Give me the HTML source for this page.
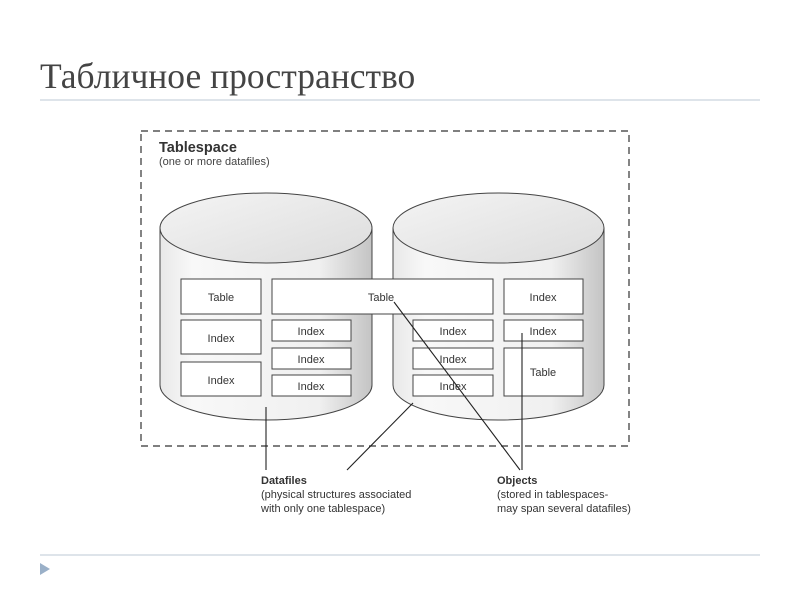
<!DOCTYPE html>
<html><head><meta charset="utf-8"><style>
body{margin:0;background:#fff;}
</style></head><body>
<svg width="800" height="600" xmlns="http://www.w3.org/2000/svg" style="display:block">
<defs>
<linearGradient id="g" x1="0" x2="1" y1="0" y2="0">
<stop offset="0" stop-color="#e8e8e8"/><stop offset="0.15" stop-color="#f8f8f8"/><stop offset="0.75" stop-color="#f0f0f0"/><stop offset="1" stop-color="#c4c4c4"/>
</linearGradient>
<linearGradient id="t" x1="0" x2="1" y1="0" y2="1">
<stop offset="0" stop-color="#f4f4f4"/><stop offset="1" stop-color="#dcdcdc"/>
</linearGradient>
</defs>
<text x="40" y="88" font-family="Liberation Serif, serif" font-size="35.5" fill="#444">Табличное пространство</text>
<line x1="40" y1="100" x2="760" y2="100" stroke="#d3dbe3" stroke-width="1.5"/>
<line x1="40" y1="555" x2="760" y2="555" stroke="#d3dbe3" stroke-width="1.5"/>
<polygon points="40,563 50,569 40,575" fill="#9ab0c8"/>

<rect x="141" y="131" width="488" height="315" fill="none" stroke="#333" stroke-width="1.2" stroke-dasharray="7,5"/>
<text x="159" y="152" font-family="Liberation Sans, sans-serif" font-size="14.5" font-weight="bold" fill="#333">Tablespace</text>
<text x="159" y="165" font-family="Liberation Sans, sans-serif" font-size="11" fill="#444">(one or more datafiles)</text>

<g stroke="#444" stroke-width="1">
<path d="M160,228 L160,385 A106,35 0 0 0 372,385 L372,228" fill="url(#g)"/>
<ellipse cx="266" cy="228" rx="106" ry="35" fill="url(#t)"/>
<path d="M393,228 L393,385 A105.5,35 0 0 0 604,385 L604,228" fill="url(#g)"/>
<ellipse cx="498.5" cy="228" rx="105.5" ry="35" fill="url(#t)"/>
</g>
<g fill="#fff" stroke="#444" stroke-width="1">
<rect x="181" y="279" width="80" height="35"/>
<rect x="272" y="279" width="221" height="35"/>
<rect x="504" y="279" width="79" height="35"/>
<rect x="181" y="320" width="80" height="34"/>
<rect x="272" y="320" width="79" height="21"/>
<rect x="413" y="320" width="80" height="21"/>
<rect x="504" y="320" width="79" height="21"/>
<rect x="272" y="348" width="79" height="21"/>
<rect x="413" y="348" width="80" height="21"/>
<rect x="504" y="348" width="79" height="48"/>
<rect x="181" y="362" width="80" height="34"/>
<rect x="272" y="375" width="79" height="21"/>
<rect x="413" y="375" width="80" height="21"/>
</g>
<g font-family="Liberation Sans, sans-serif" font-size="11" fill="#333" text-anchor="middle">
<text x="221" y="301">Table</text>
<text x="381" y="301">Table</text>
<text x="543" y="301">Index</text>
<text x="221" y="342">Index</text>
<text x="311" y="335">Index</text>
<text x="453" y="335">Index</text>
<text x="543" y="335">Index</text>
<text x="311" y="363">Index</text>
<text x="453" y="363">Index</text>
<text x="543" y="376">Table</text>
<text x="221" y="384">Index</text>
<text x="311" y="390">Index</text>
<text x="453" y="390">Index</text>
</g>
<g stroke="#222" stroke-width="1.1">
<line x1="394" y1="302" x2="520" y2="470"/>
<line x1="522" y1="333" x2="522" y2="470"/>
<line x1="266" y1="407" x2="266" y2="470"/>
<line x1="413" y1="403" x2="347" y2="470"/>
</g>
<g font-family="Liberation Sans, sans-serif" font-size="11" fill="#333">
<text x="261" y="484" font-weight="bold">Datafiles</text>
<text x="261" y="498">(physical structures associated</text>
<text x="261" y="512">with only one tablespace)</text>
<text x="497" y="484" font-weight="bold">Objects</text>
<text x="497" y="498">(stored in tablespaces-</text>
<text x="497" y="512">may span several datafiles)</text>
</g>
</svg>
</body></html>
